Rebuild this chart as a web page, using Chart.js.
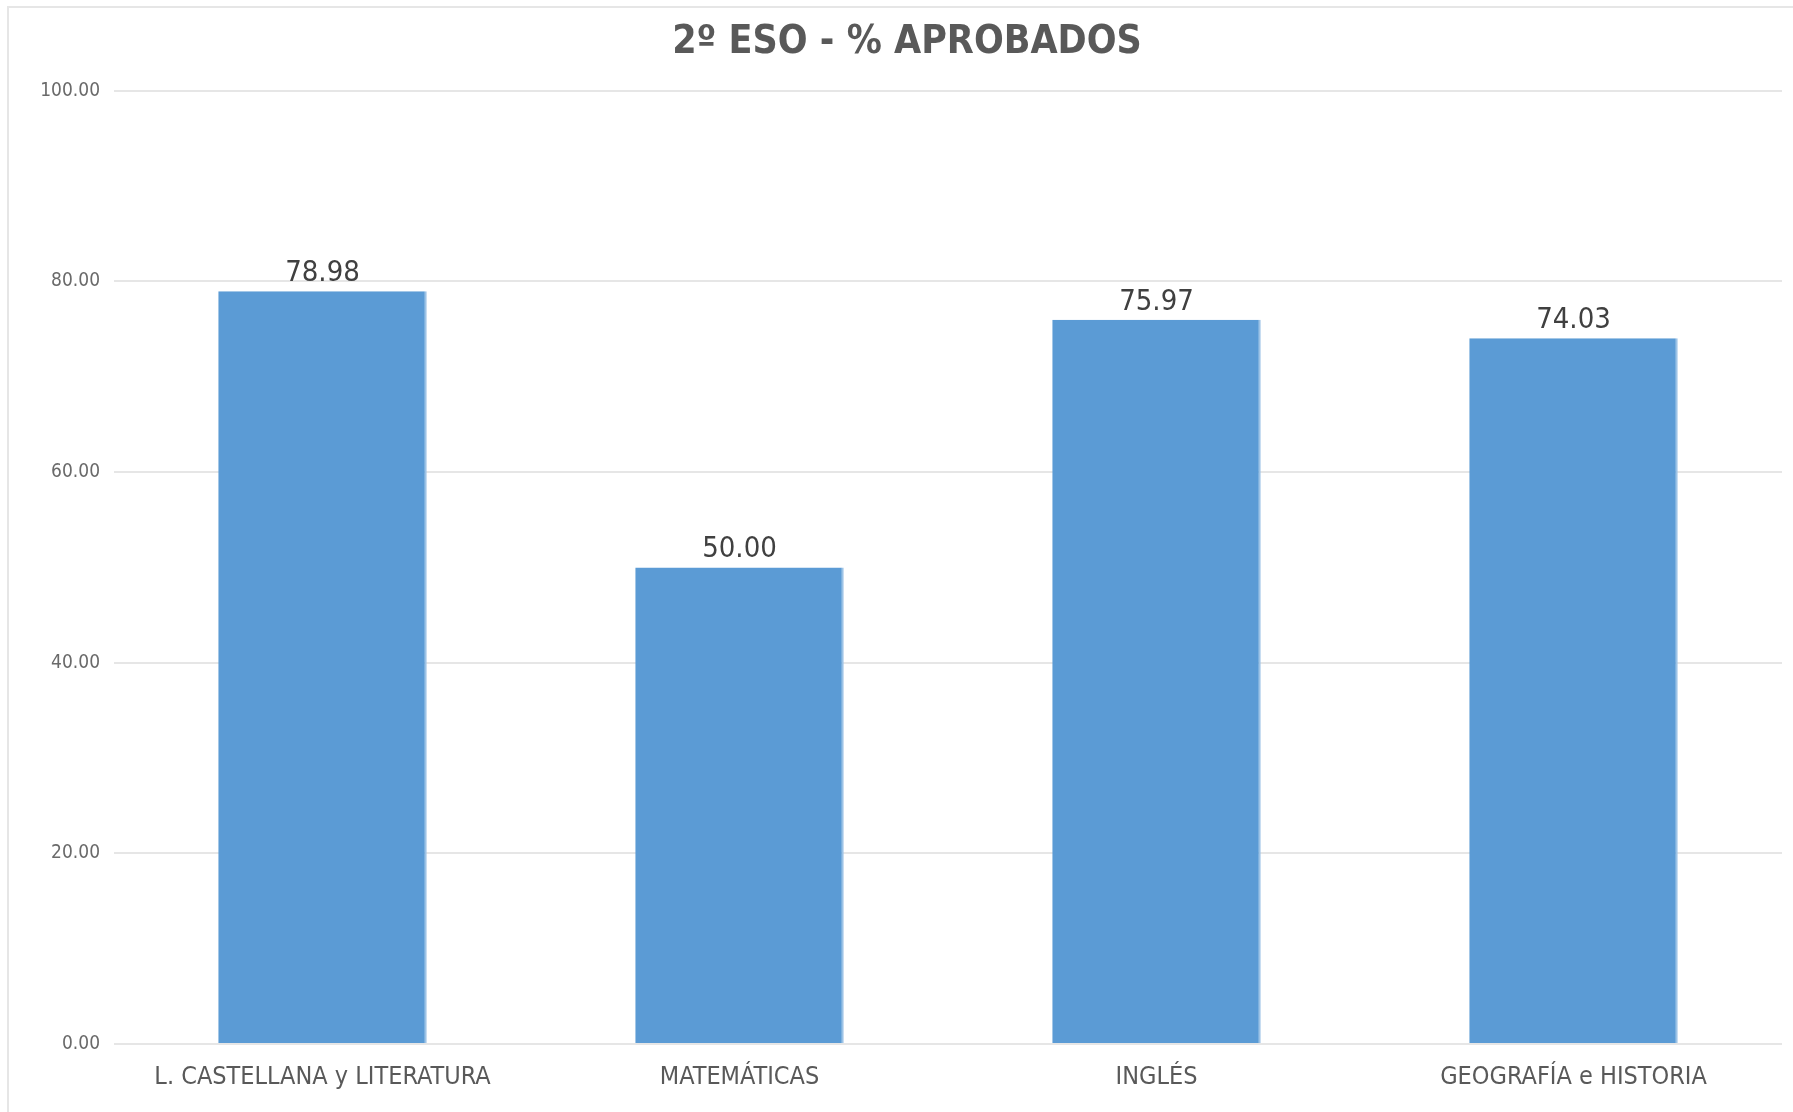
<!DOCTYPE html>
<html>
<head>
<meta charset="utf-8">
<script src="https://cdn.jsdelivr.net/npm/chart.js@4.4.0/dist/chart.umd.min.js"></script>
<style>
  body { margin: 0; background: #fff; }
  #wrap { position: relative; width: 1793px; height: 1112px; }
  #frame { position: absolute; left: 7px; top: 6px; right: -10px; bottom: -10px; border-left: 2px solid #e6e6e6; border-top: 2px solid #e6e6e6; }
</style>
</head>
<body>
<div id="wrap">
  <div id="frame"></div>
  <canvas id="grafico" width="1793" height="1112"></canvas>
</div>
<script>
// Datos del gráfico
const asignaturas = ['L. CASTELLANA y LITERATURA', 'MATEMÁTICAS', 'INGLÉS', 'GEOGRAFÍA e HISTORIA']
const aprobados = [78.98, 50.00, 75.97, 74.03]
const marcasY = [0, 20, 40, 60, 80, 100]

const fuente = '"Liberation Sans Narrow", "DejaVu Sans Condensed", "Open Sans", sans-serif'

// Etiquetas de valor encima de cada barra
const etiquetasValor = {
  id: 'etiquetasValor',
  afterDatasetsDraw (chart) {
    const ctx = chart.ctx
    const meta = chart.getDatasetMeta(0)
    ctx.save()
    ctx.fillStyle = '#404040'
    ctx.font = '29px ' + fuente
    ctx.textAlign = 'center'
    ctx.textBaseline = 'bottom'
    meta.data.forEach((barra, i) => {
      ctx.fillText(aprobados[i].toFixed(2), barra.x, barra.y - 3)
    })
    ctx.restore()
  }
}

const ctx = document.getElementById('grafico').getContext('2d')
new Chart(ctx, {
  type: 'bar',
  data: {
    labels: asignaturas,
    datasets: [{
      data: aprobados,
      backgroundColor: '#5b9bd5',
      borderColor: '#9dc3e6',
      borderWidth: { left: 0, top: 0, bottom: 0, right: 2 },
      categoryPercentage: 1,
      barPercentage: 0.5
    }]
  },
  options: {
    responsive: false,
    animation: false,
    layout: { padding: { left: 32, right: 11, top: 0, bottom: 4 } },
    plugins: {
      legend: { display: false },
      tooltip: { enabled: false },
      title: {
        display: true,
        text: '2º ESO - % APROBADOS',
        color: '#595959',
        font: { family: fuente, size: 39, weight: 'bold' },
        padding: { top: 19, bottom: 25 }
      }
    },
    scales: {
      x: {
        grid: { display: false, drawTicks: false },
        border: { display: false },
        ticks: { color: '#595959', font: { family: fuente, size: 25 }, padding: 18, maxRotation: 0 },
        afterFit (scale) { scale.height = 64 }
      },
      y: {
        min: 0,
        max: 100,
        afterBuildTicks (scale) { scale.ticks = marcasY.map(v => ({ value: v })) },
        grid: { color: '#e6e6e6', lineWidth: 2, drawTicks: false },
        border: { display: false },
        ticks: {
          color: '#6a6a6a',
          font: { family: fuente, size: 19 },
          padding: 14,
          callback: v => v.toFixed(2)
        },
        afterFit (scale) { scale.width = 82 }
      }
    }
  },
  plugins: [etiquetasValor]
})
</script>
</body>
</html>
